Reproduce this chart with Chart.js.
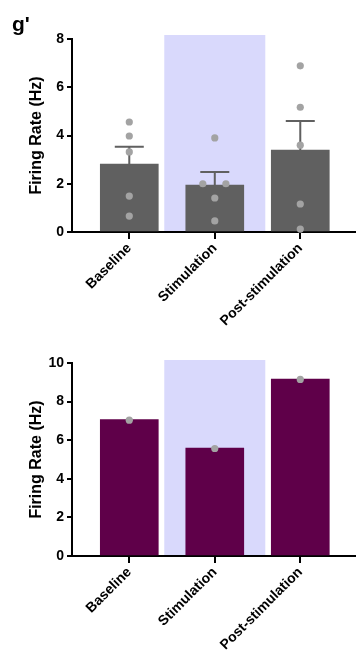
<!DOCTYPE html>
<html>
<head>
<meta charset="utf-8">
<script src="https://cdn.jsdelivr.net/npm/chart.js@4/dist/chart.umd.min.js"></script>
<style>
  html, body { margin: 0; padding: 0; background: #fff; }
  body { width: 359px; height: 663px; position: relative; overflow: hidden; font-family: "Liberation Sans", Arial, sans-serif; }
  .panel { position: absolute; left: 0; width: 359px; }
  #topBox { top: 0; height: 330px; }
  #botBox { top: 330px; height: 333px; }
  #panelLabel { position: absolute; left: 12px; top: 12px; font-weight: bold; font-size: 21px; z-index: 2; }
</style>
</head>
<body>
<div id="panelLabel">g'</div>
<div class="panel" id="topBox"><canvas id="topChart" width="359" height="330"></canvas></div>
<div class="panel" id="botBox"><canvas id="botChart" width="359" height="333"></canvas></div>
<script>
// categorias
const categories = ['Baseline', 'Stimulation', 'Post-stimulation'];

// painel de cima: média, SEM e pontos individuais
const topMeans = [2.82, 1.95, 3.40];
const topSem = [0.71, 0.54, 1.20];
const topPoints = [
    [4.56, 3.98, 3.32, 1.49, 0.66],
    [3.90, 2.00, 2.00, 1.41, 0.46],
    [6.89, 5.17, 3.60, 1.16, 0.12]
];
const topJitter = [
    [0, 0, 0, 0, 0],
    [0, -0.14, 0.13, 0, 0],
    [0, 0, 0, 0, 0]
];
const topTicks = [0, 2, 4, 6, 8];
const topShade = 8.17;

// painel de baixo: uma célula só
const botMeans = [7.07, 5.59, 9.17];
const botPoints = [[7.04], [5.57], [9.15]];
const botTicks = [0, 2, 4, 6, 8, 10];
const botShade = 10.15;

const stimIndex = 1;

const tickFont = { family: 'Liberation Sans', size: 14, weight: 'bold' };

// barras de erro desenhadas logo depois das barras (pontos ficam por cima)
const errorBarPlugin = {
    id: 'errorBars',
    afterDatasetDraw(chart, args) {
        const ds = chart.data.datasets[args.index];
        if (!ds.sem) return;
        const ctx = chart.ctx;
        const x = chart.scales.x, y = chart.scales.y;
        ctx.save();
        ctx.strokeStyle = ds.backgroundColor;
        ctx.lineWidth = 2;
        ds.data.forEach((p, i) => {
            const px = x.getPixelForValue(p.x);
            const top = y.getPixelForValue(p.y + ds.sem[i]);
            const base = y.getPixelForValue(p.y);
            ctx.beginPath();
            ctx.moveTo(px, base);
            ctx.lineTo(px, top);
            ctx.moveTo(px - 14.5, top);
            ctx.lineTo(px + 14.5, top);
            ctx.stroke();
        });
        ctx.restore();
    }
};

function makeChart(canvasId, cfg) {
    const ctx = document.getElementById(canvasId).getContext('2d');
    const datasets = [
        {
            type: 'bar',
            label: 'shade',
            data: [{ x: stimIndex, y: cfg.shade }],
            backgroundColor: '#d9d9fc',
            barPercentage: 2,
            categoryPercentage: 1,
            maxBarThickness: 101,
            grouped: false,
            clip: false,
            order: 3
        },
        {
            type: 'bar',
            label: 'mean',
            data: cfg.means.map((m, i) => ({ x: i, y: m })),
            sem: cfg.sem,
            backgroundColor: cfg.barColor,
            barPercentage: 1,
            categoryPercentage: 1,
            maxBarThickness: 58,
            grouped: false,
            order: 2
        },
        {
            type: 'scatter',
            label: 'cells',
            data: cfg.points.flatMap((arr, i) => arr.map((v, j) => ({ x: i + (cfg.jitter ? cfg.jitter[i][j] : 0), y: v }))),
            backgroundColor: '#a3a3a3',
            borderWidth: 0,
            pointRadius: 3.6,
            clip: false,
            order: 0
        }
    ];
    return new Chart(ctx, {
        data: { datasets: datasets },
        plugins: [errorBarPlugin],
        options: {
            responsive: false,
            animation: false,
            events: [],
            layout: { padding: { top: cfg.padTop, left: 27, right: 0, bottom: 0 } },
            plugins: { legend: { display: false }, tooltip: { enabled: false } },
            scales: {
                x: {
                    type: 'linear',
                    offset: false,
                    min: -0.67,
                    max: 2.64,
                    afterBuildTicks: (s) => { s.ticks = categories.map((c, i) => ({ value: i })); },
                    afterFit: (s) => { s.height = cfg.xHeight; },
                    border: { color: '#000', width: 2 },
                    grid: { offset: false, drawOnChartArea: false, color: '#000', lineWidth: 2, tickLength: 7 },
                    ticks: {
                        autoSkip: false,
                        minRotation: 45,
                        maxRotation: 45,
                        padding: 1,
                        color: '#000',
                        font: { family: 'Liberation Sans', size: 14, weight: 'bold' },
                        callback: (v) => categories[v]
                    }
                },
                y: {
                    min: 0,
                    max: cfg.ticks[cfg.ticks.length - 1],
                    afterBuildTicks: (s) => { s.ticks = cfg.ticks.map(v => ({ value: v })); },
                    afterFit: (s) => { s.width = 45; },
                    border: { color: '#000', width: 2 },
                    grid: { drawOnChartArea: false, color: '#000', lineWidth: 2, tickLength: 5 },
                    ticks: { color: '#000', font: tickFont, padding: 3 },
                    title: {
                        display: true,
                        text: 'Firing Rate (Hz)',
                        color: '#000',
                        font: { family: 'Liberation Sans', size: 16, weight: 'bold' },
                        padding: { top: 0, bottom: 2 }
                    }
                }
            }
        }
    });
}

makeChart('topChart', {
    means: topMeans, sem: topSem, points: topPoints, jitter: topJitter,
    ticks: topTicks, shade: topShade, barColor: '#606060',
    padTop: 39, xHeight: 98
});

makeChart('botChart', {
    means: botMeans, sem: null, points: botPoints, jitter: null,
    ticks: botTicks, shade: botShade, barColor: '#5f0049',
    padTop: 33, xHeight: 107
});
</script>
</body>
</html>
